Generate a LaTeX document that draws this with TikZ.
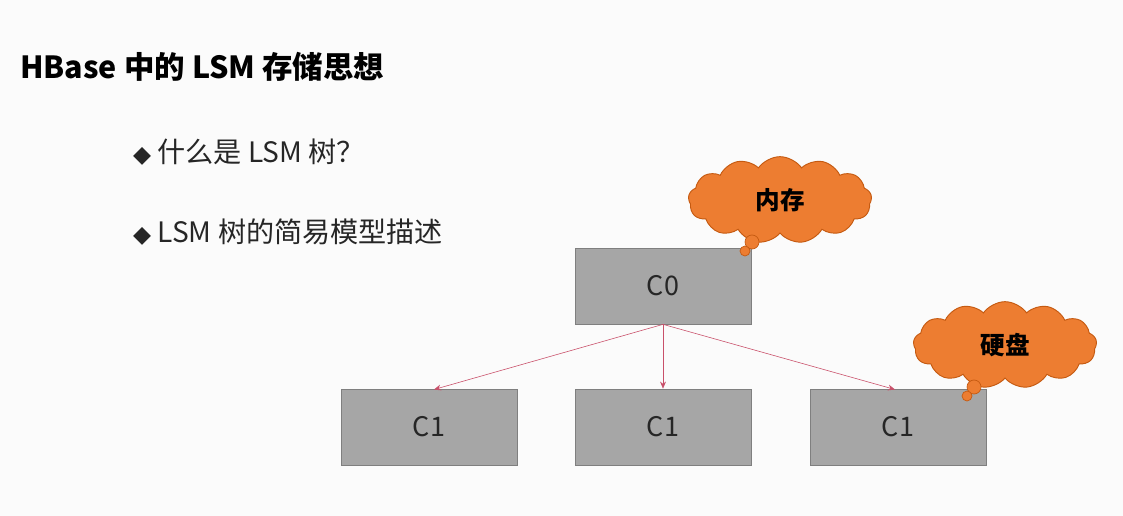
\documentclass[tikz,border=0pt]{standalone}
\usepackage{fontspec}
\setmainfont{Noto Sans CJK SC}
\newfontfamily\sym{DejaVu Sans}
\usetikzlibrary{shapes.symbols,arrows.meta}
\definecolor{boxg}{HTML}{A6A6A6}
\definecolor{boxb}{HTML}{7F7F7F}
\definecolor{org}{HTML}{ED7D31}
\definecolor{orgb}{HTML}{C55A11}
\definecolor{arr}{HTML}{C9506A}
\tikzset{x=0.03cm,y=-0.03cm,
 cbox/.style={draw=boxb,fill=boxg,minimum width=5.28cm,minimum height=2.28cm,font=\fontsize{23}{26}\selectfont,text=black!85,line width=0.6pt},
 cl/.style={cloud,cloud puffs=13,cloud puff arc=110,aspect=2.2,draw=orgb,fill=org,line width=0.8pt,minimum width=5.5cm,minimum height=2.6cm,font=\bfseries\fontsize{21}{24}\selectfont},
 bub/.style={circle,draw=orgb,fill=org,inner sep=0pt,line width=0.6pt},
 con/.style={draw=arr,line width=0.5pt,-{Stealth[length=6pt,width=5pt]}},
 txt/.style={anchor=west,font=\fontsize{24}{28}\selectfont,text=black!85}}
\begin{document}
\begin{tikzpicture}
\fill[white!97!gray] (0,0) rectangle (1123,516);
\useasboundingbox (0,0) rectangle (1123,516);
\node[anchor=west,font=\bfseries\fontsize{26}{30}\selectfont,inner sep=0pt] (title) at (20,67) {HBase 中的 LSM 存储思想};
\node[txt,inner sep=0pt] (b1) at (133,152) {{\sym\fontsize{20}{24}\selectfont ◆} 什么是 LSM 树？};
\node[txt,inner sep=0pt] (b2) at (133,232) {{\sym\fontsize{20}{24}\selectfont ◆} LSM 树的简易模型描述};
\node[cbox] (c0) at (663,286) {C0};
\node[cbox] (c1a) at (429,427) {C1};
\node[cbox] (c1b) at (663,427) {C1};
\node[cbox] (c1c) at (898,427) {C1};
\draw[con] (c0.south) -- (434,389.5);
\draw[con] (c0.south) -- (c1b.north);
\draw[con] (c0.south) -- (895,389.5);
\node[cl] (m) at (780,200) {内存};
\node[bub,minimum size=0.42cm] (m1) at (752,242) {};
\node[bub,minimum size=0.3cm] (m2) at (745,251) {};
\node[cl] (h) at (1005,345) {硬盘};
\node[bub,minimum size=0.42cm] (h1) at (974,387) {};
\node[bub,minimum size=0.3cm] (h2) at (967,396) {};
\end{tikzpicture}
\end{document}
